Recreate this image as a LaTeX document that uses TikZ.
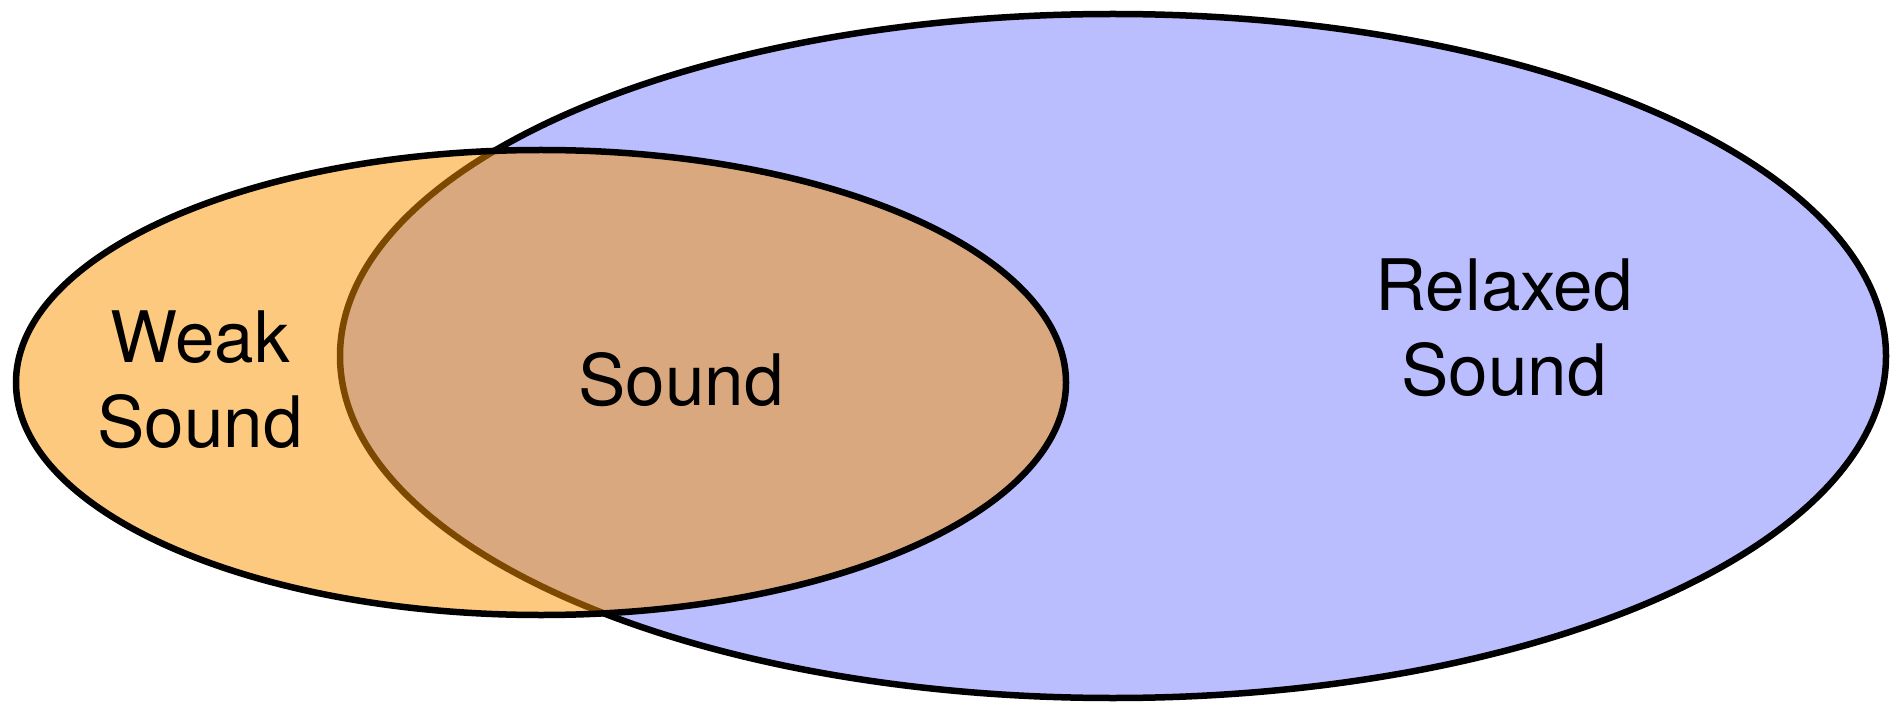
\documentclass[tikz,border=0pt]{standalone}
\usepackage{fontspec}
\setmainfont{TeX Gyre Heros}
\definecolor{relaxblue}{RGB}{186,190,254}
\definecolor{weakorange}{RGB}{251,147,0}
\begin{document}
\begin{tikzpicture}[x=1pt,y=-1pt,
  setline/.style={draw=black,line width=6.5pt},
  lbl/.style={inner sep=0pt,align=center,font=\fontsize{71}{85}\selectfont}]
\useasboundingbox (0,0) rectangle (1898,703);
\path[setline,fill=relaxblue] (1113,356) ellipse [x radius=773,y radius=342];
\path[setline,fill=weakorange,fill opacity=0.5] (541,382.5) ellipse [x radius=525,y radius=232.5];
\node[lbl] (weak) at (200,380) {Weak\\Sound};
\node[lbl] (sound) at (681,380) {Sound};
\node[lbl] (relaxed) at (1504,328) {Relaxed\\Sound};
\end{tikzpicture}
\end{document}
